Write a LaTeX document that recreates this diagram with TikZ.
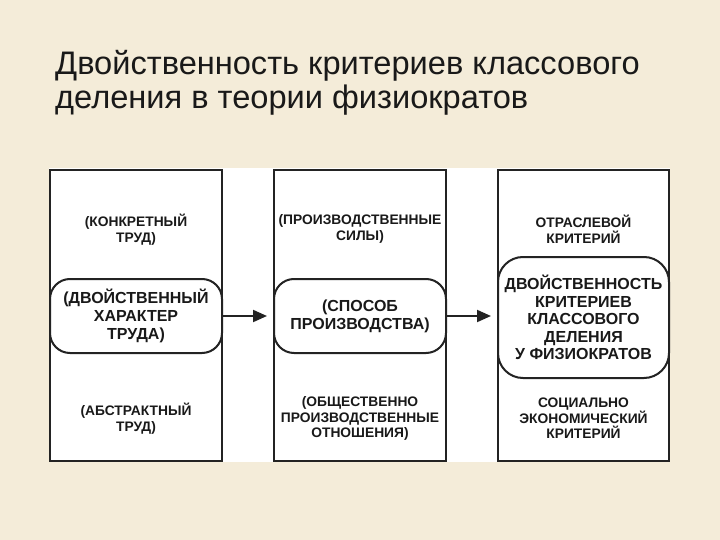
\documentclass[tikz,border=0pt]{standalone}
\usepackage{fontspec}
\setmainfont{Liberation Sans}
\usetikzlibrary{arrows.meta}
\definecolor{parch}{RGB}{244,236,217}
\definecolor{ink}{RGB}{25,25,25}
\definecolor{lineink}{RGB}{35,35,35}
\tikzset{
  bigbox/.style={draw=lineink, line width=2pt, fill=white, minimum width=172pt, minimum height=291pt, inner sep=0pt},
  roundbox/.style={draw=lineink, line width=2pt, fill=white, rounded corners=20pt, minimum width=172pt, inner sep=0pt, align=center, font=\fontsize{16}{18}\selectfont\bfseries, text=ink},
  smalltext/.style={align=center, font=\fontsize{13.8}{15.6}\selectfont\bfseries, text=ink, inner sep=0pt},
  titletext/.style={font=\fontsize{32.6}{36}\selectfont, text=ink, inner sep=0pt, anchor=base west},
  arr/.style={draw=lineink, line width=2pt, -{Triangle[length=14pt,width=12pt]}, shorten >=6pt}
}
\begin{document}
\begin{tikzpicture}[x=1pt,y=-1pt]
\useasboundingbox (0,0) rectangle (720,540);
\fill[parch] (0,0) rectangle (720,540);
\fill[white] (49,168) rectangle (670,462);
% title
\node[titletext] (t1) at (55,75) {Двойственность критериев классового};
\node[titletext] (t2) at (55,109) {деления в теории физиократов};
% big boxes
\node[bigbox] (b1) at (136,315.5) {};
\node[bigbox] (b2) at (360,315.5) {};
\node[bigbox, minimum width=171pt] (b3) at (583.5,315.5) {};
% top texts
\node[smalltext] (u1) at (136,229.5) {(КОНКРЕТНЫЙ\\ТРУД)};
\node[smalltext] (u2) at (360,229) {(ПРОИЗВОДСТВЕННЫЕ\\СИЛЫ)};
\node[smalltext] (u3) at (583.5,229) {ОТРАСЛЕВОЙ\\КРИТЕРИЙ};
% middle
\node[roundbox, minimum height=74pt] (m1) at (136,316) {(ДВОЙСТВЕННЫЙ\\ХАРАКТЕР\\ТРУДА)};
\node[roundbox, minimum height=74pt] (m2) at (360,316) {(СПОСОБ\\ПРОИЗВОДСТВА)};
\node[roundbox, minimum height=121pt, minimum width=171pt, rounded corners=25pt, font=\fontsize{16}{17.6}\selectfont\bfseries] (m3) at (583.5,317.5) {ДВОЙСТВЕННОСТЬ\\КРИТЕРИЕВ\\КЛАССОВОГО\\ДЕЛЕНИЯ\\У ФИЗИОКРАТОВ};
% bottom texts
\node[smalltext] (d1) at (136,418.5) {(АБСТРАКТНЫЙ\\ТРУД)};
\node[smalltext] (d2) at (360,418.5) {(ОБЩЕСТВЕННО\\ПРОИЗВОДСТВЕННЫЕ\\ОТНОШЕНИЯ)};
\node[smalltext] (d3) at (583.5,418.5) {СОЦИАЛЬНО\\ЭКОНОМИЧЕСКИЙ\\КРИТЕРИЙ};
% arrows
\draw[arr] (m1.east) -- (m2.west);
\draw[arr] (m2.east) -- (m3.west |- m2.east);
\end{tikzpicture}
\end{document}
